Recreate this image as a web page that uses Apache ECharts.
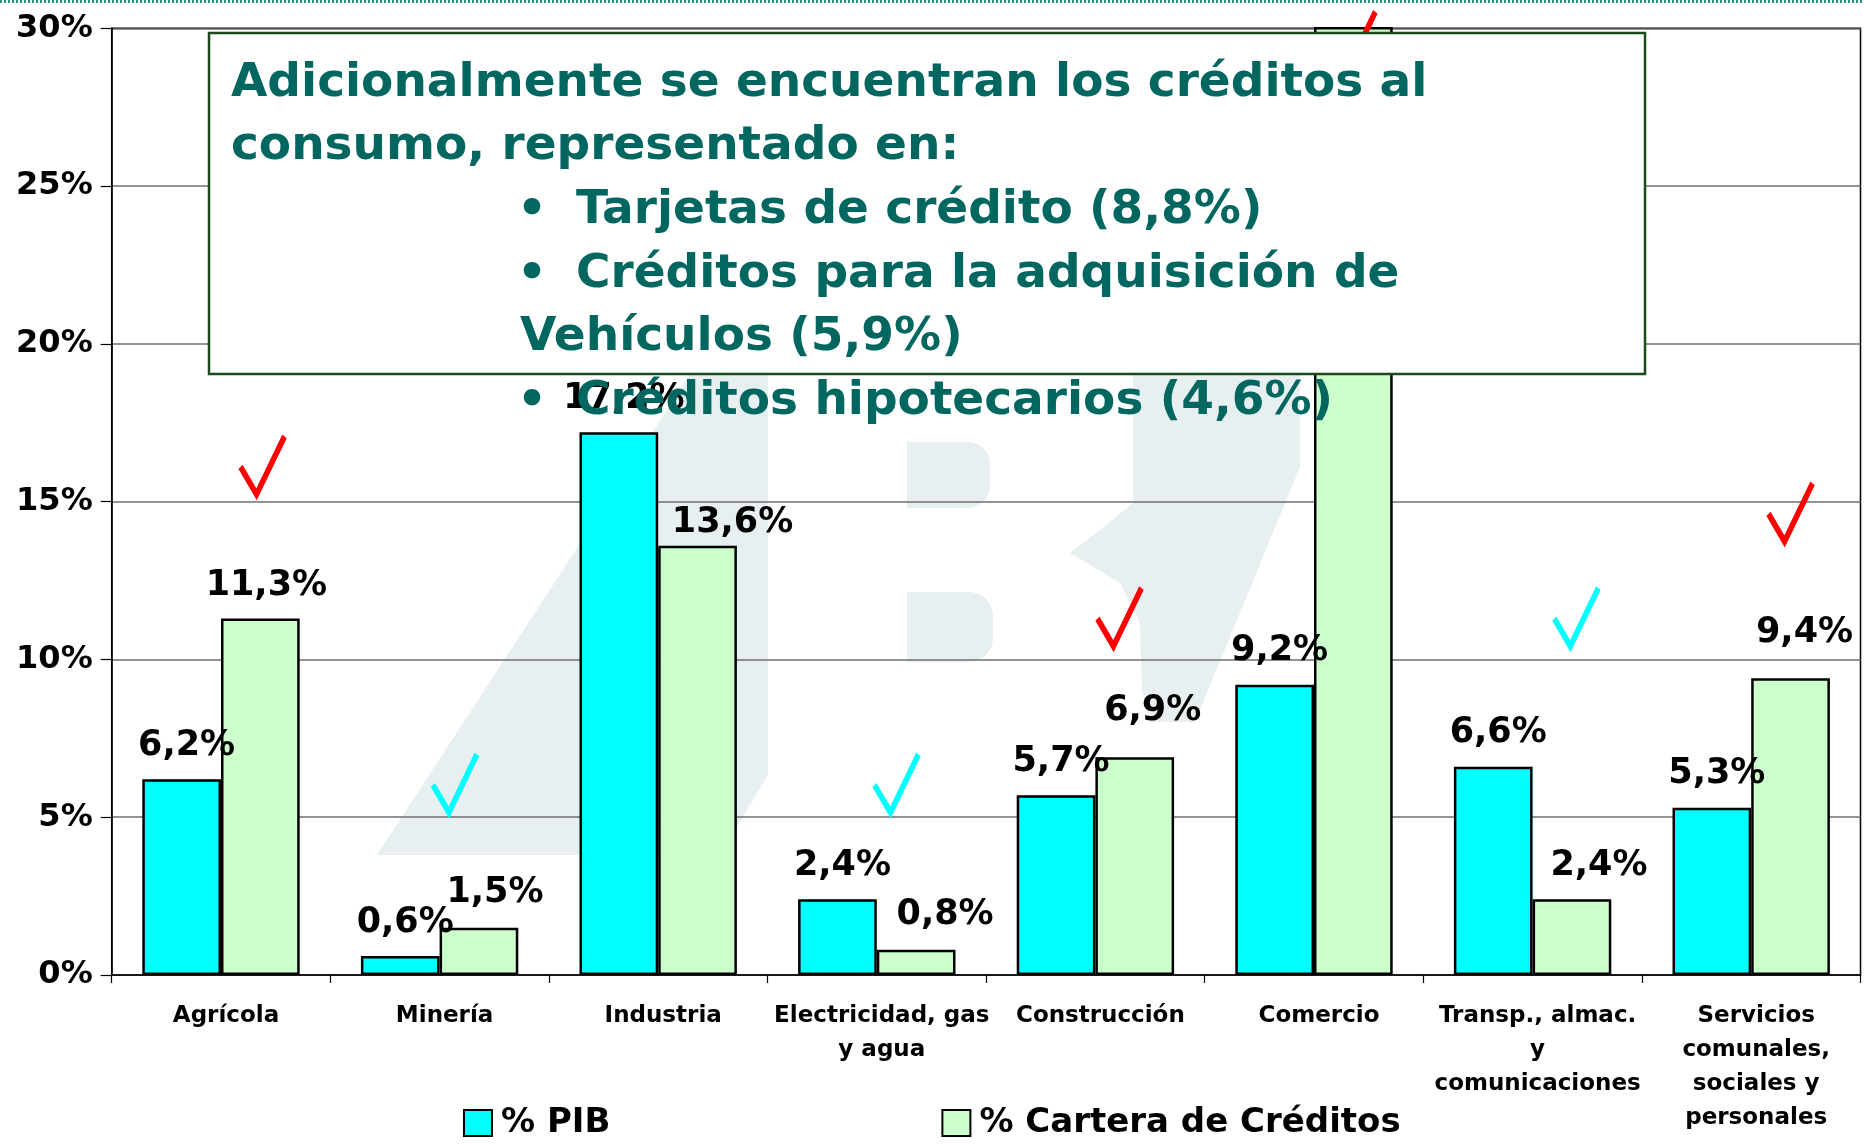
<!DOCTYPE html>
<html>
<head>
<meta charset="utf-8">
<script src="https://cdn.jsdelivr.net/npm/echarts@6/dist/echarts.min.js"></script>
<style>
html,body{margin:0;padding:0;background:#fff;}
#chart{width:1864px;height:1144px;}
</style>
</head>
<body>
<div id="chart"></div>
<script>
// ---- data ----
const categories = ['Agrícola', 'Minería', 'Industria', 'Electricidad, gas\ny agua', 'Construcción', 'Comercio', 'Transp., almac.\ny\ncomunicaciones', 'Servicios\ncomunales,\nsociales y\npersonales'];
const seriesNames = ['% PIB', '% Cartera de Créditos'];
const pibValues = [6.2, 0.6, 17.2, 2.4, 5.7, 9.2, 6.6, 5.3];
const carteraValues = [11.3, 1.5, 13.6, 0.8, 6.9, 34.8, 2.4, 9.4]; // Comercio value hidden behind the text box (estimated)
const yMin = 0, yMax = 30, yStep = 5;
// check-mark annotations: position in category units (0..8) and value units
const checkX = [0.69, 1.57, 3.59, 4.61, 5.68, 6.70, 7.68];
const checkY = [16.15, 6.07, 6.07, 11.34, 29.6, 11.34, 14.66];
const checkColor = ['#ff0000', '#00ffff', '#00ffff', '#ff0000', '#ff0000', '#00ffff', '#ff0000'];
// text box content
const boxLines = [
  {bullet: false, text: 'Adicionalmente se encuentran los créditos al', indent: 0},
  {bullet: false, text: 'consumo, representado en:', indent: 0},
  {bullet: true, text: 'Tarjetas de crédito (8,8%)', indent: 2},
  {bullet: true, text: 'Créditos para la adquisición de', indent: 2},
  {bullet: false, text: 'Vehículos (5,9%)', indent: 1},
  {bullet: true, text: 'Créditos hipotecarios (4,6%)', indent: 2}
];

// ---- styling ----
const FONT = '"DejaVu Sans", Verdana, sans-serif';
// label placement tweaks (pixels) for the green series, as placed in the original
const carteraLabelOffset = [[6, 1], [16, -1], [35, 11], [29, -1], [18, -13], [5, 0], [27, 0], [14, -12]];

const chart = echarts.init(document.getElementById('chart'));

function fmt(v) { return v > yMax ? '' : v.toFixed(1).replace('.', ',') + '%'; }

const wm = '#e8eff1';
const graphics = [
  {type: 'line', shape: {x1: 0, y1: 1.5, x2: 1864, y2: 1.5}, style: {stroke: '#2f8f86', lineWidth: 3, lineDash: [2, 2]}, z: 1},
  {type: 'polygon', shape: {points: [[377, 855], [720, 855], [768, 775], [768, 255]]}, style: {fill: wm}, z: -10},
  {type: 'rect', shape: {x: 907, y: 442, width: 83, height: 66, r: [0, 22, 22, 0]}, style: {fill: wm}, z: -10},
  {type: 'rect', shape: {x: 907, y: 592, width: 86, height: 70, r: [0, 24, 24, 0]}, style: {fill: wm}, z: -10},
  {type: 'polygon', shape: {points: [[1133, 300], [1133, 503], [1100, 530], [1070, 553], [1095, 568], [1120, 583], [1140, 623], [1142, 690], [1150, 722], [1195, 722], [1300, 467], [1300, 300]]}, style: {fill: wm}, z: -10},
  {type: 'rect', shape: {x: 209, y: 33, width: 1436, height: 341}, style: {fill: '#ffffff', stroke: '#1d4a1d', lineWidth: 2.5}, z: 50}
];
const lineX = [231, 520, 576];
boxLines.forEach(function (l, i) {
  const cy = 97 + i * 63.6 - 13.5;
  if (l.bullet) {
    graphics.push({type: 'text', x: 517, y: cy, z: 60,
      style: {text: '•', font: 'bold 47px ' + FONT, fill: '#006660', verticalAlign: 'middle', align: 'left'}});
  }
  graphics.push({type: 'text', x: lineX[l.indent], y: cy, z: 60,
    style: {text: l.text, font: 'bold 47px ' + FONT, fill: '#006660', verticalAlign: 'middle', align: 'left'}});
});

const checkPath = 'path://M3,33 L19,60 L47,3';
const labelBase = {show: true, position: 'top', distance: 16, offset: [5, 0],
  formatter: function (p) { return fmt(p.value); },
  fontFamily: FONT, fontWeight: 'bold', fontSize: 35, color: '#000'};

const option = {
  animation: false,
  backgroundColor: '#ffffff',
  textStyle: {fontFamily: FONT},
  grid: {left: 111.7, right: 3.5, top: 28.3, bottom: 169, show: true, borderColor: '#000', borderWidth: 1.5, backgroundColor: 'transparent'},
  legend: {
    data: seriesNames,
    left: 463, top: 1106, padding: 0,
    itemWidth: 28, itemHeight: 26, itemGap: 331,
    icon: 'rect',
    textStyle: {fontFamily: FONT, fontWeight: 'bold', fontSize: 34, color: '#000', padding: [0, 0, 0, 4]},
    selectedMode: false
  },
  xAxis: [{
    type: 'category', data: categories,
    axisLine: {lineStyle: {color: '#000', width: 1.5}},
    axisTick: {show: true, length: 8, lineStyle: {color: '#000', width: 1.2}},
    axisLabel: {interval: 0, margin: 24, padding: [0, 0, 0, 10], fontFamily: FONT, fontWeight: 'bold', fontSize: 23, lineHeight: 34, color: '#000'},
    splitLine: {show: false}
  }, {
    type: 'value', min: 0, max: 8, show: false
  }],
  yAxis: {
    type: 'value', min: yMin, max: yMax, interval: yStep,
    axisLine: {show: true, lineStyle: {color: '#000', width: 1.5}},
    axisTick: {show: true, length: 11, lineStyle: {color: '#000', width: 1.2}},
    axisLabel: {formatter: '{value}%', margin: 19, fontFamily: FONT, fontWeight: 'bold', fontSize: 32, color: '#000'},
    splitLine: {show: true, lineStyle: {color: '#6f6f6f', width: 1.5}}
  },
  series: [{
    name: seriesNames[0], type: 'bar', data: pibValues,
    barGap: '0%', barCategoryGap: '28%',
    itemStyle: {color: '#00ffff', borderColor: '#000', borderWidth: 2.5},
    label: labelBase,
    emphasis: {disabled: true}, z: 3
  }, {
    name: seriesNames[1], type: 'bar',
    data: carteraValues.map(function (v, i) { return {value: v, label: {offset: carteraLabelOffset[i]}}; }),
    itemStyle: {color: '#ccffcc', borderColor: '#000', borderWidth: 2.5},
    label: labelBase,
    emphasis: {disabled: true}, z: 3
  }, {
    name: 'checks', type: 'scatter', xAxisIndex: 1, clip: false,
    data: checkX.map(function (x, i) {
      return {value: [x, checkY[i]], itemStyle: {borderColor: checkColor[i]}};
    }),
    symbol: checkPath, symbolSize: [44, 58],
    itemStyle: {color: 'none', borderWidth: 6, opacity: 1},
    emphasis: {disabled: true}, z: 4
  }],
  graphic: {elements: graphics}
};
chart.setOption(option);
</script>
</body>
</html>
